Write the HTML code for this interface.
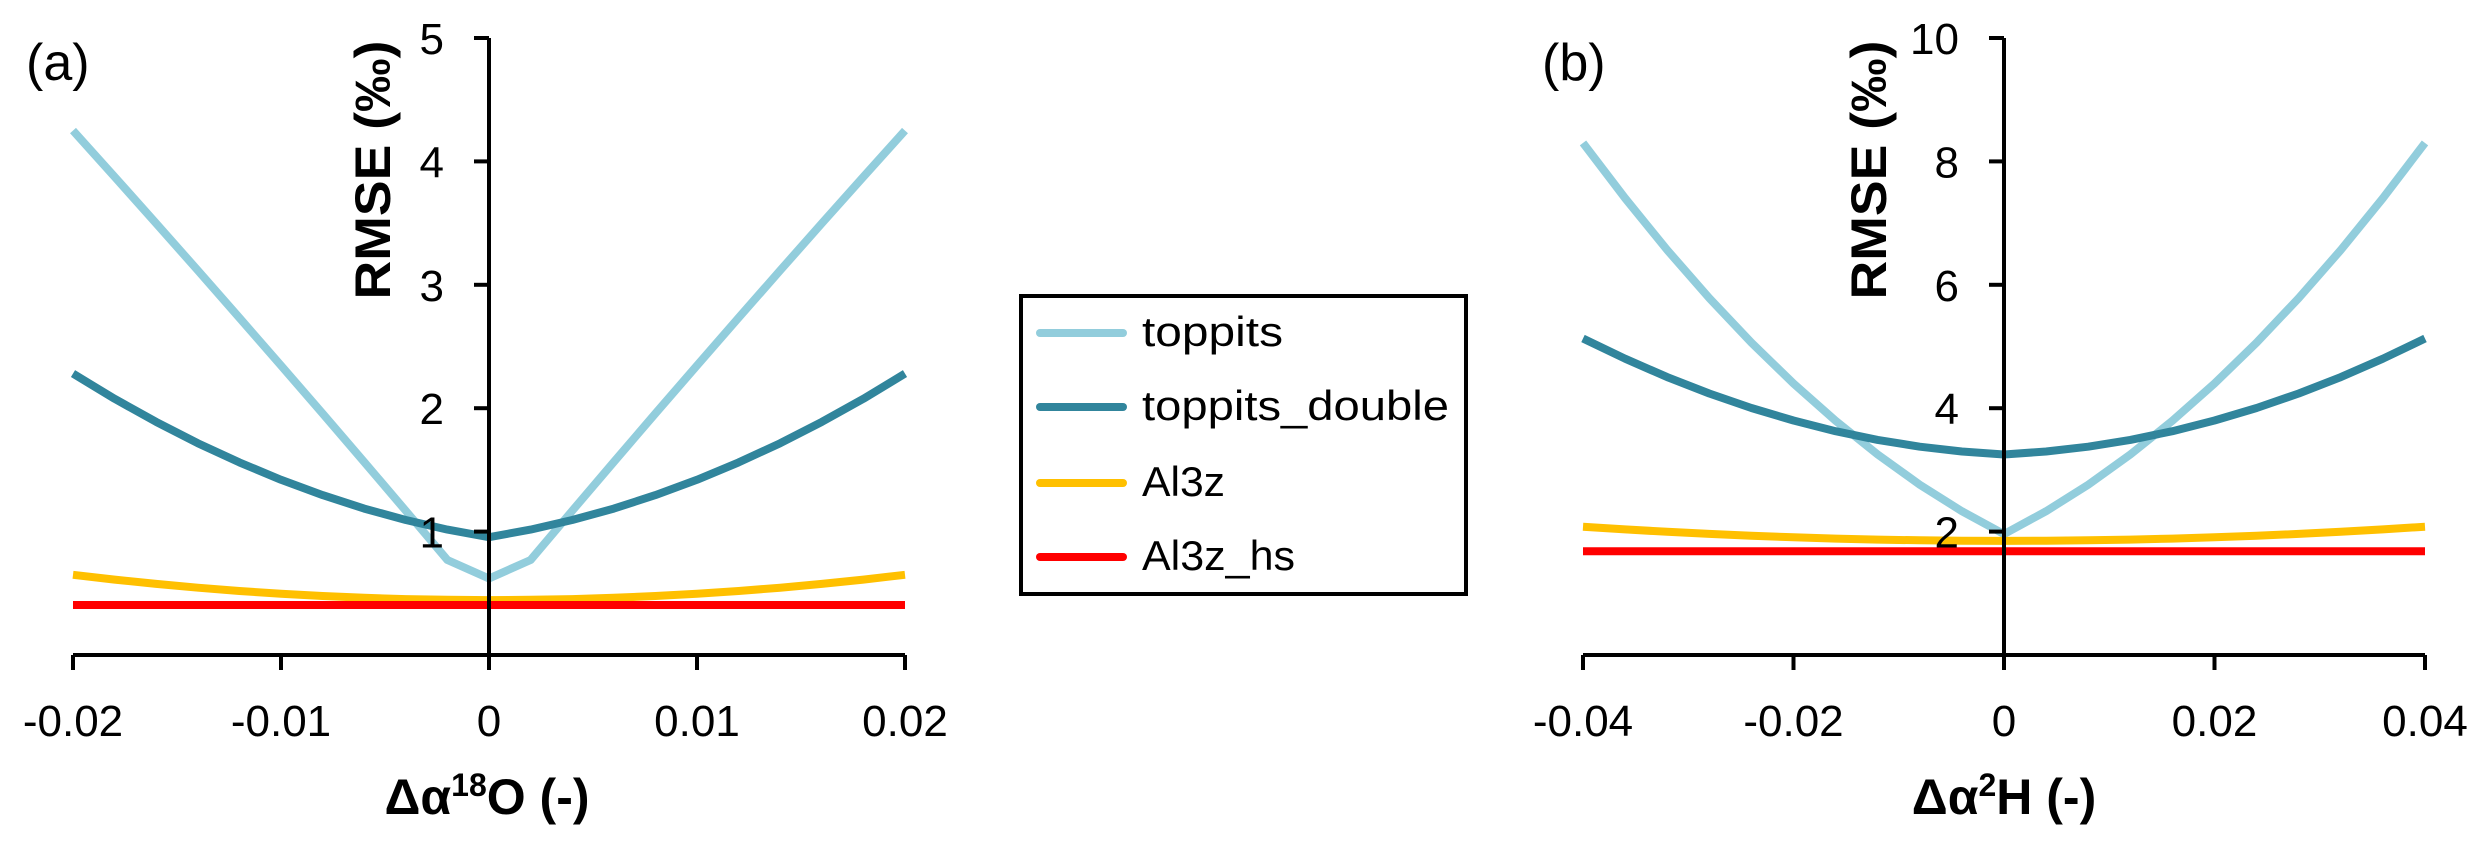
<!DOCTYPE html>
<html><head><meta charset="utf-8"><style>
html,body{margin:0;padding:0;background:#fff;}
svg{display:block;}
text{font-family:"Liberation Sans",sans-serif;fill:#000;}
</style></head><body>
<svg id="s" width="2483" height="848" xmlns="http://www.w3.org/2000/svg">
<g id="ga"></g>
<g id="gb"></g>
<text x="26" y="80" font-size="52">(a)</text>
<text x="1542" y="80" font-size="52">(b)</text>
<text transform="translate(390,170) rotate(-90)" font-size="50" font-weight="bold" text-anchor="middle" textLength="259" lengthAdjust="spacingAndGlyphs">RMSE (‰)</text>
<text transform="translate(1886,170) rotate(-90)" font-size="50" font-weight="bold" text-anchor="middle" textLength="259" lengthAdjust="spacingAndGlyphs">RMSE (‰)</text>
<text x="487" y="814" font-size="50" font-weight="bold" text-anchor="middle">Δα<tspan font-size="32" dy="-18">18</tspan><tspan dy="18">O (-)</tspan></text>
<text x="2004" y="814" font-size="50" font-weight="bold" text-anchor="middle">Δα<tspan font-size="32" dy="-18">2</tspan><tspan dy="18">H (-)</tspan></text>
<rect x="1021" y="296" width="445" height="298" fill="none" stroke="#000" stroke-width="4"/>
<g stroke-width="8" stroke-linecap="round">
<line x1="1040" y1="333" x2="1123" y2="333" stroke="#92CDDC"/>
<line x1="1040" y1="407" x2="1123" y2="407" stroke="#31859C"/>
<line x1="1040" y1="483" x2="1123" y2="483" stroke="#FFC000"/>
<line x1="1040" y1="557" x2="1123" y2="557" stroke="#FF0000"/>
</g>
<g font-size="42">
<text x="1142" y="346" textLength="141" lengthAdjust="spacingAndGlyphs">toppits</text>
<text x="1142" y="420" textLength="307" lengthAdjust="spacingAndGlyphs">toppits_double</text>
<text x="1142" y="496" textLength="83" lengthAdjust="spacingAndGlyphs">Al3z</text>
<text x="1142" y="570" textLength="153" lengthAdjust="spacingAndGlyphs">Al3z_hs</text>
</g>
</svg>
<script>
function build(gid,x0,x1,xc,ymax,xmax,yticks,xlabels,series){
  var g=document.getElementById(gid),h='';
  var y0=655,yt=38;
  function X(v){return xc+v/xmax*(x1-xc);}
  function Y(v){return y0-v/ymax*(y0-yt);}
  series.forEach(function(s){
    var p=[];
    for(var i=-10;i<=10;i++){var u=i/10;p.push(X(u*xmax).toFixed(1)+','+Y(s.f(u)).toFixed(1));}
    h+='<polyline points="'+p.join(' ')+'" fill="none" stroke="'+s.c+'" stroke-width="8" stroke-linejoin="round"/>';
  });
  h+='<line x1="'+x0+'" y1="'+y0+'" x2="'+x1+'" y2="'+y0+'" stroke="#000" stroke-width="4"/>';
  h+='<line x1="'+xc+'" y1="'+yt+'" x2="'+xc+'" y2="'+y0+'" stroke="#000" stroke-width="4"/>';
  for(var k=0;k<5;k++){var xx=x0+k*(x1-x0)/4;h+='<line x1="'+xx+'" y1="'+y0+'" x2="'+xx+'" y2="'+(y0+15)+'" stroke="#000" stroke-width="4"/>';
    h+='<text x="'+xx+'" y="736" font-size="44" text-anchor="middle">'+xlabels[k]+'</text>';}
  yticks.forEach(function(t,i){var yy=y0-(i+1)*(y0-yt)/yticks.length;
    h+='<line x1="'+(xc-15)+'" y1="'+yy+'" x2="'+xc+'" y2="'+yy+'" stroke="#000" stroke-width="4"/>';
    h+='<text x="'+(xc-45)+'" y="'+(yy+16)+'" font-size="44" text-anchor="end">'+t+'</text>';});
  g.innerHTML=h;
}
build('ga',73,905,489,5,0.02,['1','2','3','4','5'],['-0.02','-0.01','0','0.01','0.02'],[
 {c:'#92CDDC',f:function(u){var a=Math.abs(u);if(a<0.1)return 0.62+1.5*a;var v=(a-0.1)/0.9;return 0.77+3.6*v-0.12*v*v;}},
 {c:'#31859C',f:function(u){var a=Math.abs(u);return 0.955+0.535*a+0.79*a*a;}},
 {c:'#FFC000',f:function(u){return 0.445+0.205*u*u;}},
 {c:'#FF0000',f:function(u){return 0.405;}}
]);
build('gb',1583,2425,2004,10,0.04,['2','4','6','8','10'],['-0.04','-0.02','0','0.02','0.04'],[
 {c:'#92CDDC',f:function(u){var a=Math.abs(u);if(a<0.1)return 1.96+1.9*a;return 1.96+3.42*a+2.92*a*a;}},
 {c:'#31859C',f:function(u){var a=Math.abs(u);return 3.25+0.32*a+1.56*a*a;}},
 {c:'#FFC000',f:function(u){return 1.85+0.23*u*u;}},
 {c:'#FF0000',f:function(u){return 1.68;}}
]);
</script>
</body></html>
